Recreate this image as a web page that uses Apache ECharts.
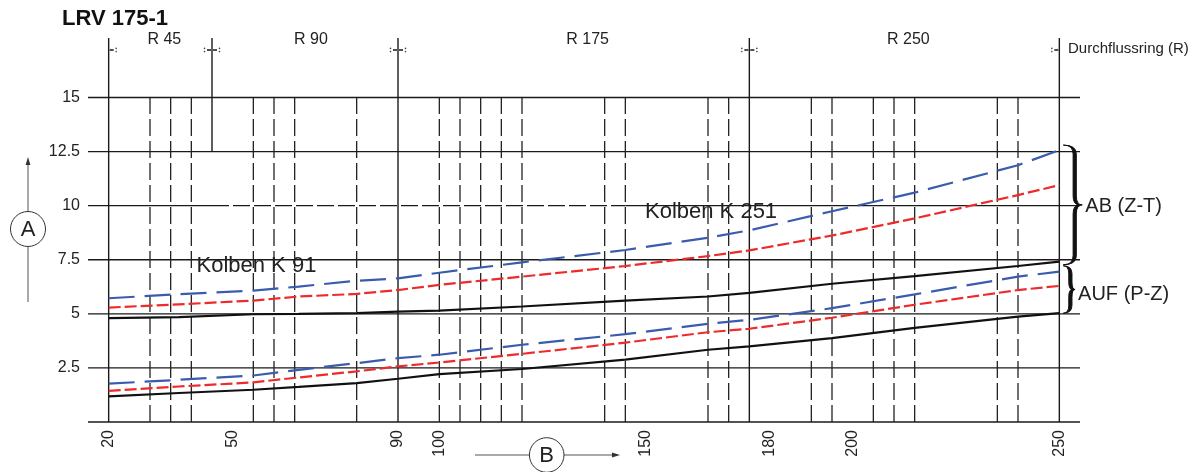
<!DOCTYPE html>
<html><head><meta charset="utf-8">
<script src="https://cdn.jsdelivr.net/npm/echarts@6/dist/echarts.min.js"></script>
<style>html,body{margin:0;padding:0;background:#fff}#c{width:1198px;height:472px}</style>
</head><body><div id="c"></div>
<script>
// ---------- data ----------
const title = 'LRV 175-1';
const xValues = [20, 37, 55, 66, 80, 90, 100, 120, 145, 165, 175, 195, 215, 240, 250];
// AB (Z-T) group
const abBlue  = [5.72, 5.91, 6.07, 6.26, 6.53, 6.64, 6.90, 7.38, 7.95, 8.52, 8.86, 9.74, 10.60, 11.87, 12.57];
const abRed   = [5.29, 5.44, 5.61, 5.80, 5.92, 6.10, 6.34, 6.72, 7.21, 7.67, 7.93, 8.62, 9.41, 10.49, 10.95];
const abBlack = [4.80, 4.85, 4.98, 5.00, 5.03, 5.10, 5.15, 5.34, 5.61, 5.80, 5.97, 6.39, 6.74, 7.21, 7.41];
// AUF (P-Z) group
const aufBlue  = [1.77, 1.95, 2.15, 2.41, 2.72, 2.95, 3.11, 3.57, 4.06, 4.54, 4.72, 5.26, 5.90, 6.72, 6.95];
const aufRed   = [1.44, 1.64, 1.83, 2.06, 2.34, 2.57, 2.75, 3.15, 3.67, 4.15, 4.31, 4.82, 5.42, 6.10, 6.29];
const aufBlack = [1.18, 1.34, 1.49, 1.62, 1.80, 2.00, 2.21, 2.45, 2.88, 3.34, 3.50, 3.88, 4.35, 4.87, 5.03];

const ringBounds   = [20, 45, 90, 175, 250];
const ringLineFrom = [0, 12.5, 0, 0, 0];
const ringLabels   = ['R 45', 'R 90', 'R 175', 'R 250'];
const ringAxisName = 'Durchflussring (R)';
const dashedX = [30, 35, 40, 55, 60, 65, 80, 100, 105, 110, 115, 120, 140, 145, 165, 170, 190, 195, 205, 210, 215, 235, 240];
const xTickLabels = [20, 50, 90, 100, 150, 180, 200, 250];
const yTickLabels = [2.5, 5, 7.5, 10, 12.5, 15];
const yGridLines  = [0, 2.5, 5, 7.5, 10, 12.5, 15];
const brokenGridY = 10, brokenGridSpan = [45, 145];
const braceLabels = ['AB (Z-T)', 'AUF (P-Z)'];
const braceRanges = [[7.27, 12.8], [5.03, 7.22]];
const curveLabels = ['Kolben K 91', 'Kolben K 251'];
const axisALabel = 'A', axisBLabel = 'B';

// ---------- layout / style ----------
const FONT = '"Liberation Sans", Arial, Helvetica, sans-serif';
const X_MIN = 15, X_MAX = 255, Y_MIN = 0, Y_MAX = 17.75;
const GRID_COL = '#1a1a1a';
const BLUE = '#3a5cae', RED = '#ee2a2a', BLACK = '#111';
const ringLabelDx = [4, 6, 14, 4];
const near = (a, list) => list.some(v => Math.abs(v - a) < 1e-6);

const chart = echarts.init(document.getElementById('c'), null, {renderer: 'canvas'});

function curve(name, values, color, dash, z) {
  return {
    name, type: 'line', data: xValues.map((x, i) => [x, values[i]]),
    showSymbol: false, symbol: 'none', smooth: false, silent: true, z,
    lineStyle: {color, width: 2.2, type: dash || 'solid', cap: 'butt'}
  };
}
function seg(a, b, style) {
  return {type: 'line', shape: {x1: a[0], y1: a[1], x2: b[0], y2: b[1]}, style};
}

const series = [
  // horizontal grid lines
  {
    type: 'custom', z: 1, silent: true,
    data: yGridLines.map(v => [X_MIN, v]),
    renderItem: (p, api) => {
      const v = api.value(1);
      const solid = {stroke: GRID_COL, lineWidth: 1.3};
      if (Math.abs(v - brokenGridY) < 1e-6) {
        return {type: 'group', children: [
          seg(api.coord([X_MIN, v]), api.coord([brokenGridSpan[0], v]), solid),
          seg(api.coord([brokenGridSpan[0], v]), api.coord([brokenGridSpan[1], v]), {stroke: GRID_COL, lineWidth: 1.3, lineDash: [17, 4]}),
          seg(api.coord([brokenGridSpan[1], v]), api.coord([X_MAX, v]), solid)
        ]};
      }
      return seg(api.coord([X_MIN, v]), api.coord([X_MAX, v]), solid);
    }
  },
  // dashed vertical lines
  {
    type: 'custom', z: 1, silent: true,
    data: dashedX.map(x => [x, 0, 15]),
    renderItem: (p, api) => seg(api.coord([api.value(0), api.value(1)]), api.coord([api.value(0), api.value(2)]),
      {stroke: '#222', lineWidth: 1.3, lineDash: [17, 5]})
  },
  // ring boundary lines + top markers
  {
    type: 'custom', z: 2, silent: true,
    data: ringBounds.map((x, i) => [x, ringLineFrom[i], Y_MAX, i]),
    renderItem: (p, api) => {
      const x = api.value(0), i = api.value(3);
      const a = api.coord([x, api.value(1)]), b = api.coord([x, api.value(2)]);
      const ch = [seg(a, b, {stroke: GRID_COL, lineWidth: 1.4})];
      const my = b[1] + 12;
      const sides = [];
      if (i > 0) sides.push(-1);
      if (i < ringBounds.length - 1) sides.push(1);
      sides.forEach(s => {
        ch.push(seg([a[0] + s * 1, my], [a[0] + s * 5, my], {stroke: '#222', lineWidth: 1.6}));
        ch.push({type: 'circle', shape: {cx: a[0] + s * 7.5, cy: my - 1.6, r: 0.8}, style: {fill: '#444'}});
        ch.push({type: 'circle', shape: {cx: a[0] + s * 7.5, cy: my + 1.6, r: 0.8}, style: {fill: '#444'}});
      });
      return {type: 'group', children: ch};
    }
  },
  // ring labels
  {
    type: 'custom', z: 3, silent: true,
    data: ringLabels.map((t, i) => [(ringBounds[i] + ringBounds[i + 1]) / 2, i]),
    renderItem: (p, api) => {
      const i = api.value(1);
      const c = api.coord([api.value(0), Y_MAX]);
      return {type: 'text', x: c[0] + ringLabelDx[i], y: c[1] + 2,
        style: {text: ringLabels[i], font: '16px ' + FONT, fill: '#222', align: 'center', verticalAlign: 'middle'}};
    }
  },
  // braces (tapered, filled)
  {
    type: 'custom', z: 3, silent: true,
    data: braceRanges.map((r, i) => [X_MAX, r[0], r[1], i]),
    renderItem: (p, api) => {
      const i = api.value(3);
      const lo = api.coord([250, api.value(1)]), hi = api.coord([250, api.value(2)]);
      const x0 = lo[0] + 4, yT = hi[1], yB = lo[1], ym = (yT + yB) / 2;
      const h = yB - yT, d = 7 + h * 0.1, xm = x0 + d * 0.6, xt = x0 + d, r = Math.min(9, h / 6);
      const w = 1.6;
      const o = xm + w, n = xm - w;
      const path =
        `M${x0},${yT} Q${o},${yT} ${o},${yT + r} L${o},${ym - r} Q${o},${ym} ${xt},${ym} ` +
        `Q${o},${ym} ${o},${ym + r} L${o},${yB - r} Q${o},${yB} ${x0},${yB} ` +
        `Q${n},${yB} ${n},${yB - r} L${n},${ym + r} Q${n},${ym} ${xt - 3},${ym} ` +
        `Q${n},${ym} ${n},${ym - r} L${n},${yT + r} Q${n},${yT} ${x0},${yT} Z`;
      return {type: 'group', children: [
        {type: 'path', shape: {pathData: path}, style: {stroke: '#111', lineWidth: 1, fill: '#111', lineJoin: 'round'}},
        {type: 'text', x: xt + 3, y: ym + (i === 0 ? 2 : 5),
          style: {text: braceLabels[i], font: '20px ' + FONT, fill: '#222', align: 'left', verticalAlign: 'middle'}}
      ]};
    }
  },
  curve('AB schwarz', abBlack, BLACK, null, 5),
  curve('AUF schwarz', aufBlack, BLACK, null, 5),
  curve('AB rot', abRed, RED, [12, 4], 6),
  curve('AUF rot', aufRed, RED, [12, 4], 6),
  curve('AB blau', abBlue, BLUE, [26, 10], 7),
  curve('AUF blau', aufBlue, BLUE, [26, 10], 7)
];

const option = {
  animation: false,
  backgroundColor: '#fff',
  grid: {left: 88, right: 118, top: 38, bottom: 50, containLabel: false, outerBoundsMode: 'none'},
  xAxis: {
    type: 'value', min: X_MIN, max: X_MAX, interval: 5,
    axisLine: {show: false}, axisTick: {show: false}, splitLine: {show: false},
    axisLabel: {rotate: 90, margin: 8, fontSize: 16, fontFamily: FONT, color: '#222',
      showMinLabel: true, showMaxLabel: true,
      formatter: v => near(v, xTickLabels) ? String(Math.round(v)) : ''}
  },
  yAxis: {
    type: 'value', min: Y_MIN, max: Y_MAX, interval: 2.5,
    axisLine: {show: false}, axisTick: {show: false}, splitLine: {show: false},
    axisLabel: {margin: 8, fontSize: 16, fontFamily: FONT, color: '#222',
      formatter: v => near(v, yTickLabels) ? String(v) : ''}
  },
  graphic: [
    {type: 'text', x: 62, y: 19, style: {text: title, font: 'bold 22px ' + FONT, fill: '#111', verticalAlign: 'middle'}},
    {type: 'text', x: 1068, y: 48.5, style: {text: ringAxisName, font: '15px ' + FONT, fill: '#222', verticalAlign: 'middle'}},
    {type: 'text', x: 196.5, y: 265.5, z: 10, style: {text: curveLabels[0], font: '22px ' + FONT, fill: '#222', verticalAlign: 'middle'}},
    {type: 'text', x: 645, y: 212, z: 10, style: {text: curveLabels[1], font: '22px ' + FONT, fill: '#222', verticalAlign: 'middle'}},
    // axis A marker
    {type: 'line', shape: {x1: 28, y1: 163, x2: 28, y2: 211.5}, style: {stroke: '#555', lineWidth: 1}},
    {type: 'line', shape: {x1: 28, y1: 246.5, x2: 28, y2: 302}, style: {stroke: '#555', lineWidth: 1}},
    {type: 'polygon', shape: {points: [[28, 157], [25.6, 165], [30.4, 165]]}, style: {fill: '#333'}},
    {type: 'circle', shape: {cx: 28, cy: 229, r: 17.5}, style: {fill: '#fff', stroke: '#333', lineWidth: 1}},
    {type: 'text', x: 28, y: 229.5, style: {text: axisALabel, font: '22px ' + FONT, fill: '#222', align: 'center', verticalAlign: 'middle'}},
    // axis B marker
    {type: 'line', shape: {x1: 475, y1: 455, x2: 529.4, y2: 455}, style: {stroke: '#555', lineWidth: 1}},
    {type: 'line', shape: {x1: 564, y1: 455, x2: 614, y2: 455}, style: {stroke: '#555', lineWidth: 1}},
    {type: 'polygon', shape: {points: [[620, 455], [612, 452.6], [612, 457.4]]}, style: {fill: '#333'}},
    {type: 'circle', shape: {cx: 546.7, cy: 455, r: 17.3}, style: {fill: '#fff', stroke: '#333', lineWidth: 1}},
    {type: 'text', x: 546.7, y: 455.5, style: {text: axisBLabel, font: '22px ' + FONT, fill: '#222', align: 'center', verticalAlign: 'middle'}}
  ],
  series
};
chart.setOption(option);
</script>
</body></html>
